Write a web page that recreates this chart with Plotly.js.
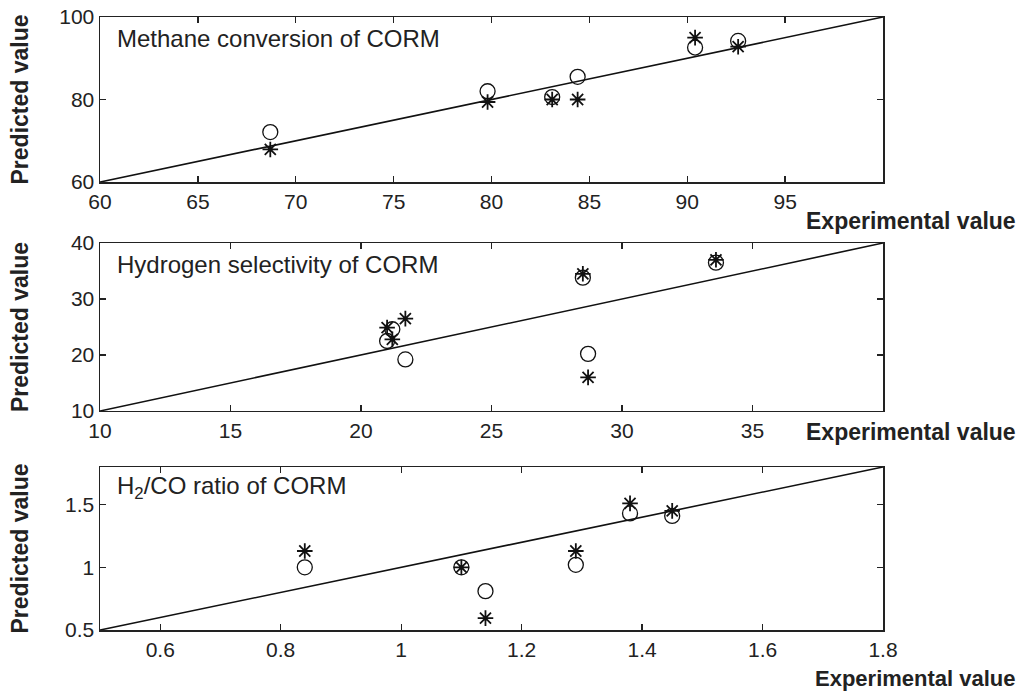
<!DOCTYPE html>
<html>
<head>
<meta charset="utf-8">
<script src="https://cdn.plot.ly/plotly-3.0.1.min.js"></script>
<style>html,body{margin:0;padding:0;background:#fff;}#chart{width:1029px;height:692px;}</style>
</head>
<body>
<div id="chart"></div>
<script>
// Panel 1: Methane conversion
const methaneExp = [68.7, 79.8, 83.1, 84.4, 90.4, 92.6];
const methaneCircle = [72.1, 82.0, 80.6, 85.5, 92.6, 94.2];
const methaneStar = [67.9, 79.4, 80.0, 80.0, 95.0, 92.8];
const methaneRange = [60, 100];

// Panel 2: Hydrogen selectivity
const h2Exp = [21.0, 21.2, 21.7, 28.5, 28.7, 33.6];
const h2Circle = [22.5, 24.6, 19.2, 33.8, 20.2, 36.5];
const h2Star = [24.9, 22.8, 26.5, 34.5, 16.0, 37.0];
const h2Range = [10, 40];

// Panel 3: H2/CO ratio
const ratioExp = [0.84, 1.10, 1.14, 1.29, 1.38, 1.45];
const ratioCircle = [1.00, 1.00, 0.81, 1.02, 1.43, 1.41];
const ratioStar = [1.13, 1.00, 0.595, 1.13, 1.51, 1.45];
const ratioRange = [0.5, 1.8];

const titles = ["Methane conversion of CORM", "Hydrogen selectivity of CORM", "H<sub>2</sub>/CO ratio of CORM"];
const xTicks = [[60,65,70,75,80,85,90,95], [10,15,20,25,30,35], [0.6,0.8,1,1.2,1.4,1.6,1.8]];
const yTicks = [[60,80,100], [10,20,30,40], [0.5,1,1.5]];

const FONT = "Arial, 'Liberation Sans', Helvetica, sans-serif";
const panels = [
  {x: methaneExp, c: methaneCircle, s: methaneStar, r: methaneRange},
  {x: h2Exp, c: h2Circle, s: h2Star, r: h2Range},
  {x: ratioExp, c: ratioCircle, s: ratioStar, r: ratioRange}
];
const domains = [[0.7308, 1], [0.3573, 0.6313], [0, 0.2659]];

const traces = [];
const layout = {
  width: 1029, height: 692,
  margin: {l: 100, r: 146, t: 17, b: 62},
  paper_bgcolor: '#fff', plot_bgcolor: '#fff',
  showlegend: false,
  font: {family: FONT, color: '#222'},
  annotations: []
};

panels.forEach((p, i) => {
  const n = i === 0 ? '' : String(i + 1);
  const xa = 'x' + n, ya = 'y' + n;
  traces.push({x: p.r, y: p.r, xaxis: xa, yaxis: ya, mode: 'lines', type: 'scatter',
    line: {color: '#111', width: 1.6}, hoverinfo: 'skip'});
  traces.push({x: p.x, y: p.c, xaxis: xa, yaxis: ya, mode: 'markers', type: 'scatter',
    marker: {symbol: 'circle-open', size: 15, color: '#111', line: {width: 1.3, color: '#111'}}});
  traces.push({x: p.x, y: p.s, xaxis: xa, yaxis: ya, mode: 'markers', type: 'scatter',
    marker: {symbol: 'asterisk-open', size: 13, color: '#111', line: {width: 1.8, color: '#111'}}});
  const common = {showline: true, mirror: 'ticks', ticks: 'inside', ticklen: 6, tickwidth: 1.3,
    linecolor: '#222', linewidth: 1.5, tickcolor: '#222', showgrid: false, zeroline: false,
    tickfont: {family: FONT, size: 21, color: '#222'}};
  layout['xaxis' + n] = Object.assign({}, common, {
    range: p.r, domain: [0, 1], anchor: ya, tickmode: 'array', tickvals: xTicks[i],
    ticktext: xTicks[i].map(String)});
  layout['yaxis' + n] = Object.assign({}, common, {
    range: p.r, domain: domains[i], anchor: xa, tickmode: 'array', tickvals: yTicks[i],
    ticktext: yTicks[i].map(String)});
  layout.annotations.push({text: titles[i], xref: xa + ' domain', yref: ya + ' domain',
    x: 0.019, y: 1 - 21 / 165, xanchor: 'left', yanchor: 'middle', showarrow: false,
    font: {family: FONT, size: 24, color: '#222'}});
  const mid = (domains[i][0] + domains[i][1]) / 2;
  layout.annotations.push({text: '<b>Predicted value</b>', xref: 'paper', yref: 'paper',
    x: -0.1022, y: mid, xanchor: 'center', yanchor: 'middle', textangle: -90, showarrow: false,
    font: {family: FONT, size: 23, color: '#222'}});
});

const expY = [0.6664, 0.3238, -0.1011];
const expAnchor = ['middle', 'middle', 'bottom'];
const expSize = [23, 23, 22];
expY.forEach((y, k) => layout.annotations.push({text: '<b>Experimental value</b>', xref: 'paper', yref: 'paper',
  x: 1.1711, y: y, xanchor: 'right', yanchor: expAnchor[k], showarrow: false, borderpad: 0,
  font: {family: FONT, size: expSize[k], color: '#222'}}));

Plotly.newPlot('chart', traces, layout, {displayModeBar: false, staticPlot: true});
</script>
</body>
</html>
